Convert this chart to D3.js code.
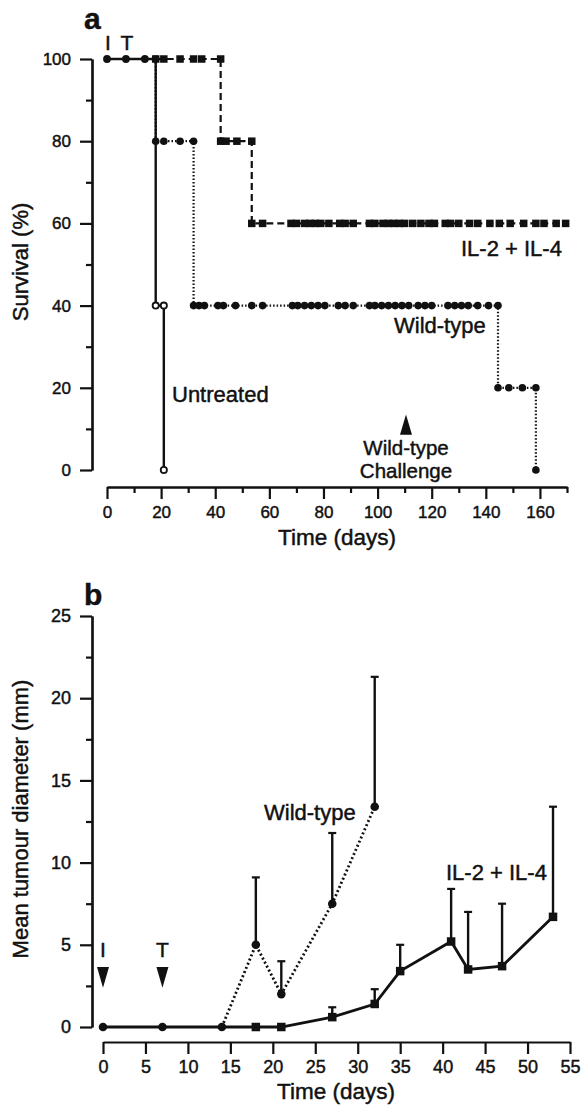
<!DOCTYPE html>
<html>
<head>
<meta charset="utf-8">
<script src="https://cdn.jsdelivr.net/npm/d3@7"></script>
<style>
  body{margin:0;background:#fff;}
  text{font-family:"Liberation Sans",Arial,sans-serif;fill:#111;stroke:#111;stroke-width:0.45px;}
</style>
</head>
<body>
<svg id="chart"></svg>
<script>
// ---- panel a : survival ----
var commonDays = [0,7,14];
var ilSurvival = [[18,100],[21,100],[27,100],[32,100],[35,100],[42,100],[42,80],[44,80],[48,80],[53.5,80],
  [53.5,60],[57.5,60],[68,60],[70,60],[73,60],[75,60],[77,60],[79,60],[82,60],[86,60],[88,60],[91,60],
  [97,60],[99,60],[102,60],[104,60],[106,60],[108,60],[110,60],[113,60],[116,60],[119,60],[121,60],
  [125,60],[127,60],[130,60],[134,60],[137,60],[141.5,60],[145,60],[149,60],[154,60],[158.5,60],
  [161.5,60],[166,60],[169.5,60]];
var wtSurvival = [[18,100],[18,80],[21,80],[27,80],[32,80],[32,40],[34,40],[36,40],[41,40],[43,40],[47.5,40],
  [53.5,40],[57.5,40],[68.5,40],[70.5,40],[73,40],[75.5,40],[78,40],[80.5,40],[85.5,40],[88,40],[91,40],
  [97,40],[99,40],[101.5,40],[104,40],[106.5,40],[109,40],[111.5,40],[115,40],[117.5,40],[120,40],
  [126,40],[128.5,40],[131,40],[133.5,40],[137,40],[141,40],[144.5,40],[144.5,20],[148.5,20],
  [153.5,20],[158.5,20],[158.5,0]];
var untreatedSurvival = [[0,100],[7,100],[14,100],[18,100],[18,40],[21,40],[21,0]];
var untreatedOpen = [[18,40],[21,40],[21,0]];
var survTicksY = [0,20,40,60,80,100];
var survMinorY = [10,30,50,70,90];
var survTicksX = [0,20,40,60,80,100,120,140,160];
var survMinorX = [10,30,50,70,90,110,130,150,170];
var challengeDay = 110.5;

// ---- panel b : tumour diameter ----
var wtDays = [0,7,14,18,21,27,32];
var wtMean = [0,0,0,5,2,7.5,13.4];
var wtUpper = [null,null,null,9.1,4,11.8,21.3];
var ilDays = [0,7,14,18,21,27,32,35,41,43,47,53];
var ilMean = [0,0,0,0,0,0.6,1.4,3.4,5.2,3.5,3.7,6.7];
var ilUpper = [null,null,null,null,null,1.2,2.3,5,8.4,7,7.5,13.4];
var tumTicksY = [0,5,10,15,20,25];
var tumMinorY = [2.5,7.5,12.5,17.5,22.5];
var tumTicksX = [0,5,10,15,20,25,30,35,40,45,50,55];
var treatDays = [0,7];
var treatLabels = ["I","T"];

var svg = d3.select("#chart").attr("width",581).attr("height",1107);
svg.append("rect").attr("width",581).attr("height",1107).attr("fill","#fff");

function styleAxis(g,fs){
  g.select(".domain").attr("stroke","#111").attr("stroke-width",2.2);
  g.selectAll(".tick line").attr("stroke","#111").attr("stroke-width",2.2);
  g.selectAll(".tick text").attr("font-size",fs).attr("fill","#111")
   .style("font-family","'Liberation Sans',Arial,sans-serif");
}

function square(g,x,y,s){
  g.append("rect").attr("x",x-s/2).attr("y",y-s/2).attr("width",s).attr("height",s).attr("fill","#111");
}

// ===== panel a =====
var xA = d3.scaleLinear().domain([0,170]).range([107,567]);
var yA = d3.scaleLinear().domain([0,100]).range([470,59]);

var gy = svg.append("g").attr("transform","translate(92,0)")
  .call(d3.axisLeft(yA).tickValues(survTicksY).tickSize(12).tickSizeOuter(0).tickPadding(9));
styleAxis(gy,17);
var gym = svg.append("g").attr("transform","translate(92,0)")
  .call(d3.axisLeft(yA).tickValues(survMinorY).tickSize(6).tickSizeOuter(0).tickFormat(""));
styleAxis(gym,17);
var gx = svg.append("g").attr("transform","translate(0,487)")
  .call(d3.axisBottom(xA).tickValues(survTicksX).tickSize(12).tickSizeOuter(0).tickPadding(7));
styleAxis(gx,17);
var gxm = svg.append("g").attr("transform","translate(0,487)")
  .call(d3.axisBottom(xA).tickValues(survMinorX).tickSize(6).tickSizeOuter(0).tickFormat(""));
styleAxis(gxm,17);

var lineA = d3.line().x(function(d){return xA(d[0]);}).y(function(d){return yA(d[1]);});

svg.append("path").attr("d",lineA(ilSurvival)).attr("fill","none")
   .attr("stroke","#111").attr("stroke-width",2.2).attr("stroke-dasharray","7,4");
svg.append("path").attr("d",lineA(wtSurvival)).attr("fill","none")
   .attr("stroke","#111").attr("stroke-width",2.2).attr("stroke-dasharray","1.5,2");
svg.append("path").attr("d",lineA(untreatedSurvival)).attr("fill","none")
   .attr("stroke","#111").attr("stroke-width",2.4);

wtSurvival.forEach(function(d){
  svg.append("circle").attr("cx",xA(d[0])).attr("cy",yA(d[1])).attr("r",3.8).attr("fill","#111");
});
commonDays.forEach(function(d){
  svg.append("circle").attr("cx",xA(d)).attr("cy",yA(100)).attr("r",3.9).attr("fill","#111");
});
ilSurvival.forEach(function(d){ square(svg,xA(d[0]),yA(d[1]),7.5); });
untreatedOpen.forEach(function(d){
  svg.append("circle").attr("cx",xA(d[0])).attr("cy",yA(d[1])).attr("r",3.1)
     .attr("fill","#fff").attr("stroke","#111").attr("stroke-width",1.8);
});

// challenge arrow
svg.append("path")
   .attr("d","M"+xA(challengeDay)+","+yA(13.5)+"L"+(xA(challengeDay)+6)+","+yA(8.6)+"L"+(xA(challengeDay)-6)+","+yA(8.6)+"Z")
   .attr("fill","#111");
svg.append("text").attr("x",xA(challengeDay)).attr("y",455).attr("text-anchor","middle").attr("font-size",20.5).text("Wild-type");
svg.append("text").attr("x",xA(challengeDay)).attr("y",478).attr("text-anchor","middle").attr("font-size",20.5).text("Challenge");

svg.append("text").attr("x",461).attr("y",256).attr("font-size",22).text("IL-2 + IL-4");
svg.append("text").attr("x",394).attr("y",333).attr("font-size",22).text("Wild-type");
svg.append("text").attr("x",172).attr("y",402).attr("font-size",22).text("Untreated");

treatDays.forEach(function(d,i){
  svg.append("text").attr("x",xA(d)+1).attr("y",50).attr("text-anchor","middle").attr("font-size",21).text(treatLabels[i]);
});

svg.append("text").attr("x",84).attr("y",29).attr("font-size",30).attr("font-weight","bold").text("a");
svg.append("text").attr("x",337).attr("y",545).attr("text-anchor","middle").attr("font-size",22.5).text("Time (days)");
svg.append("text").attr("transform","translate(28,262) rotate(-90)").attr("text-anchor","middle")
   .attr("font-size",22).text("Survival (%)");

// ===== panel b =====
var xB = d3.scaleLinear().domain([0,55]).range([103,570]);
var yB = d3.scaleLinear().domain([0,25]).range([1027,616]);

var by = svg.append("g").attr("transform","translate(92,0)")
  .call(d3.axisLeft(yB).tickValues(tumTicksY).tickSize(12).tickSizeOuter(0).tickPadding(9));
styleAxis(by,18);
var bym = svg.append("g").attr("transform","translate(92,0)")
  .call(d3.axisLeft(yB).tickValues(tumMinorY).tickSize(6).tickSizeOuter(0).tickFormat(""));
styleAxis(bym,18);
var bx = svg.append("g").attr("transform","translate(0,1042)")
  .call(d3.axisBottom(xB).tickValues(tumTicksX).tickSize(12).tickSizeOuter(0).tickPadding(6));
styleAxis(bx,18);

var wtPts = wtDays.map(function(d,i){return {x:d,y:wtMean[i],u:wtUpper[i]};});
var ilPts = ilDays.map(function(d,i){return {x:d,y:ilMean[i],u:ilUpper[i]};});
var lineB = d3.line().x(function(d){return xB(d.x);}).y(function(d){return yB(d.y);});

// error bars
wtPts.concat(ilPts).forEach(function(d){
  if(d.u===null) return;
  svg.append("line").attr("x1",xB(d.x)).attr("x2",xB(d.x)).attr("y1",yB(d.y)).attr("y2",yB(d.u))
     .attr("stroke","#111").attr("stroke-width",2.4);
  svg.append("line").attr("x1",xB(d.x)-4).attr("x2",xB(d.x)+4).attr("y1",yB(d.u)).attr("y2",yB(d.u))
     .attr("stroke","#111").attr("stroke-width",2.2);
});

svg.append("path").attr("d",lineB(wtPts.slice(2))).attr("fill","none")
   .attr("stroke","#111").attr("stroke-width",2.8).attr("stroke-dasharray","2,2.5");
svg.append("path").attr("d",lineB(ilPts)).attr("fill","none")
   .attr("stroke","#111").attr("stroke-width",2.8);

wtPts.forEach(function(d){
  svg.append("circle").attr("cx",xB(d.x)).attr("cy",yB(d.y)).attr("r",4.3).attr("fill","#111");
});
ilPts.forEach(function(d){
  if(d.x<15) return;
  square(svg,xB(d.x),yB(d.y),8.5);
});

treatDays.forEach(function(d,i){
  var x = xB(d);
  svg.append("path").attr("d","M"+(x-6)+","+yB(3.65)+"L"+(x+6)+","+yB(3.65)+"L"+x+","+yB(2.38)+"Z").attr("fill","#111");
  svg.append("text").attr("x",x).attr("y",957).attr("text-anchor","middle").attr("font-size",21).text(treatLabels[i]);
});

svg.append("text").attr("x",264).attr("y",820).attr("font-size",22).text("Wild-type");
svg.append("text").attr("x",446).attr("y",880).attr("font-size",22).text("IL-2 + IL-4");

svg.append("text").attr("x",84).attr("y",605).attr("font-size",30).attr("font-weight","bold").text("b");
svg.append("text").attr("x",336).attr("y",1099).attr("text-anchor","middle").attr("font-size",22.5).text("Time (days)");
svg.append("text").attr("transform","translate(28,819) rotate(-90)").attr("text-anchor","middle")
   .attr("font-size",22).text("Mean tumour diameter (mm)");
</script>
</body>
</html>
